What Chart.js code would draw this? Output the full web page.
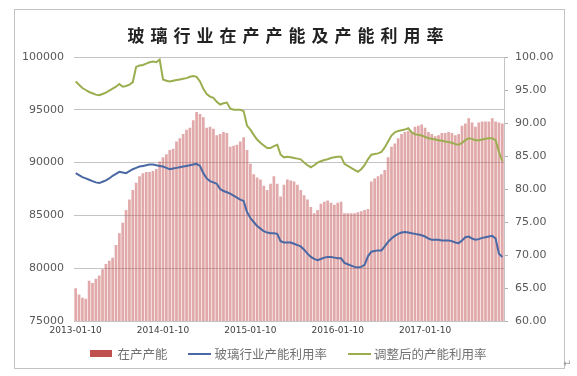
<!DOCTYPE html>
<html>
<head>
<meta charset="utf-8">
<script src="https://cdn.jsdelivr.net/npm/chart.js@4.4.1/dist/chart.umd.min.js"></script>
<style>
  body { margin: 0; background: #fff; }
  #wrap { position: relative; width: 577px; height: 376px; }
  #frame { position: absolute; left: 14px; top: 9px; width: 549px; height: 358px; border: 1px solid #c3c3c3; }
  #title { position: absolute; left: 0; top: 22px; width: 577px; text-align: center;
           font-family: "Noto Sans CJK SC"; font-weight: bold; font-size: 17px; letter-spacing: 6px; color: #222; }
  #legend { position: absolute; left: 0; top: 344px; width: 577px; display: flex; justify-content: center; align-items: center;
            font-family: "Noto Sans CJK SC"; font-size: 12.5px; color: #707070; }
  .sw-rect { width: 22px; height: 7px; background: #c0504d; margin-right: 5px; }
  .sw-line { width: 23px; height: 2px; margin-right: 3px; }
  .gap { width: 21px; }
  #mark { position: absolute; left: 563px; top: 358px; font-size: 10px; color: #999; font-family: "DejaVu Sans"; }
  canvas { position: absolute; left: 0; top: 0; }
</style>
</head>
<body>
<div id="wrap">
  <div id="frame"></div>
  <canvas id="glassChart" width="577" height="376"></canvas>
  <div id="title">玻璃行业在产产能及产能利用率</div>
  <div id="legend"></div>
  <div id="mark">↵</div>
</div>
<script>
// two-week sampling, first point 2013-01-10
const startDate = "2013-01-10";
const tickIndex = [0, 26, 52, 78, 104];
const tickLabels = ["2013-01-10", "2014-01-10", "2015-01-10", "2016-01-10", "2017-01-10"];

const seriesNames = ["在产产能", "玻璃行业产能利用率", "调整后的产能利用率"];

// 在产产能 (left axis)
const capacity = [
  78100, 77500, 77200, 77100, 78800, 78600, 79000, 79300, 79900, 80400,
  80700, 81000, 82200, 83300, 84300, 85500, 86500, 87400, 88100, 88700,
  89000, 89100, 89100, 89200, 89400, 90100, 90500, 90800, 91200, 91300,
  92000, 92300, 92700, 93100, 93300, 94000, 94800, 94600, 94300, 93300,
  93400, 93200, 92600, 92700, 92900, 92800, 91500, 91600, 91700, 92000,
  92400, 91200, 89900, 88900, 88600, 88400, 87800, 87400, 88000, 88700,
  88000, 86800, 87900, 88400, 88300, 88200, 87900, 87400, 86900, 86500,
  85800, 85200, 85500, 86100, 86300, 86400, 86200, 86000, 86200, 86300,
  85200, 85200, 85200, 85200, 85300, 85400, 85500, 85600, 88200, 88500,
  88700, 88900, 89300, 90500, 91500, 91800, 92300, 92700, 92900, 93000,
  92900, 93400, 93500, 93600, 93300, 92900, 92700, 92500, 92600, 92800,
  92800, 92900, 92800, 92600, 92700, 93500, 93700, 94200, 93800, 93400,
  93800, 93900, 93900, 93900, 94200, 93900, 93800, 93700
];

// 玻璃行业产能利用率 (right axis)
const utilization = [
  82.4, 82.1, 81.8, 81.6, 81.4, 81.2, 81.0, 80.9, 81.1, 81.3,
  81.6, 82.0, 82.3, 82.6, 82.5, 82.4, 82.7, 83.0, 83.2, 83.4,
  83.5, 83.6, 83.7, 83.7, 83.6, 83.5, 83.4, 83.2, 83.0, 83.1,
  83.2, 83.3, 83.4, 83.5, 83.6, 83.7, 83.8, 83.5, 82.4, 81.6,
  81.2, 81.0, 80.8, 80.0, 79.7, 79.5, 79.3, 79.0, 78.7, 78.4,
  78.2, 76.5, 75.6, 75.0, 74.4, 74.0, 73.6, 73.4, 73.3, 73.3,
  73.2, 72.1, 71.9, 71.9, 71.9, 71.7, 71.5, 71.3, 70.8, 70.2,
  69.7, 69.4, 69.2, 69.4, 69.6, 69.7, 69.7, 69.6, 69.5, 69.5,
  68.8, 68.6, 68.4, 68.2, 68.1, 68.2, 68.5, 69.8, 70.5, 70.6,
  70.7, 70.7, 71.3, 72.0, 72.5, 72.9, 73.2, 73.4, 73.5, 73.4,
  73.3, 73.2, 73.1, 73.0, 72.8, 72.5, 72.3, 72.3, 72.3, 72.2,
  72.2, 72.2, 72.1, 71.9, 71.8, 72.2, 72.7, 72.8, 72.5, 72.3,
  72.4, 72.6, 72.7, 72.8, 72.9, 72.5, 70.2, 69.7
];

// 调整后的产能利用率 (right axis)
const adjusted = [
  96.3, 95.8, 95.3, 95.0, 94.7, 94.5, 94.3, 94.2, 94.4, 94.6,
  94.9, 95.2, 95.5, 95.9, 95.5, 95.6, 95.8, 96.2, 98.5, 98.7,
  98.8, 99.0, 99.2, 99.3, 99.2, 99.6, 96.6, 96.4, 96.3, 96.4,
  96.5, 96.6, 96.7, 96.8, 97.0, 97.1, 97.0, 96.3, 95.2, 94.4,
  94.0, 93.8, 93.2, 92.8, 93.0, 93.1, 92.2, 92.0, 92.0, 92.0,
  91.8, 89.6, 89.0, 88.2, 87.5, 87.0, 86.6, 86.2, 86.2, 86.5,
  86.7, 85.2, 84.8, 84.9, 84.8, 84.7, 84.6, 84.5, 84.0, 83.6,
  83.3, 83.6, 84.0, 84.2, 84.4, 84.5, 84.7, 84.8, 84.9, 84.9,
  83.8, 83.5, 83.2, 82.9, 82.6, 83.0, 83.6, 84.5, 85.2, 85.3,
  85.4, 85.6, 86.3, 87.2, 88.1, 88.6, 88.8, 88.9, 89.0, 89.2,
  88.6, 88.3, 88.2, 88.1, 87.9, 87.7, 87.6, 87.5, 87.4, 87.3,
  87.2, 87.1, 87.0, 86.8, 86.7, 87.0, 87.4, 87.7, 87.6, 87.4,
  87.4, 87.5, 87.6, 87.7, 87.7, 87.4, 85.6, 84.2
];

const colors = ["#c0504d", "#4a68a3", "#9aae4f"];

// category labels: one date per two weeks
const labels = [];
const d0 = new Date(startDate + "T00:00:00Z");
for (let i = 0; i < capacity.length; i++) {
  const d = new Date(d0.getTime() + i * 14 * 86400000);
  labels.push(d.toISOString().slice(0, 10));
}

// legend
const legend = document.getElementById("legend");
seriesNames.forEach((name, i) => {
  if (i > 0) {
    const g = document.createElement("span");
    g.className = "gap";
    legend.appendChild(g);
  }
  const sw = document.createElement("span");
  sw.className = i === 0 ? "sw-rect" : "sw-line";
  sw.style.background = colors[i];
  legend.appendChild(sw);
  const t = document.createElement("span");
  t.textContent = name;
  legend.appendChild(t);
});

const tickFont = { family: "DejaVu Sans", size: 11 };

new Chart(document.getElementById("glassChart").getContext("2d"), {
  data: {
    labels: labels,
    datasets: [
      {
        type: "bar",
        label: seriesNames[0],
        data: capacity,
        yAxisID: "y",
        backgroundColor: "rgba(196, 84, 84, 0.5)",
        barPercentage: 0.8,
        categoryPercentage: 1,
        order: 2
      },
      {
        type: "line",
        label: seriesNames[1],
        data: utilization,
        yAxisID: "y1",
        borderColor: colors[1],
        borderWidth: 2,
        pointRadius: 0,
        tension: 0,
        order: 1
      },
      {
        type: "line",
        label: seriesNames[2],
        data: adjusted,
        yAxisID: "y1",
        borderColor: colors[2],
        borderWidth: 2,
        pointRadius: 0,
        tension: 0,
        order: 1
      }
    ]
  },
  options: {
    responsive: false,
    animation: false,
    layout: { padding: { left: 14, right: 13, top: 57, bottom: 35 } },
    plugins: { legend: { display: false }, tooltip: { enabled: false } },
    scales: {
      x: {
        grid: { display: false, drawTicks: false },
        border: { display: false },
        ticks: {
          autoSkip: false,
          maxRotation: 0,
          padding: 4,
          color: "#404040",
          font: { family: "DejaVu Sans", size: 9 },
          callback: (v, i) => {
            const k = tickIndex.indexOf(i);
            return k >= 0 ? tickLabels[k] : null;
          }
        },
        afterFit: (s) => { s.height = 20; }
      },
      y: {
        position: "left",
        min: 75000,
        max: 100000,
        ticks: { stepSize: 5000, color: "#595959", font: tickFont, padding: 10, callback: (v) => String(v) },
        grid: { color: "#c4c4c4", drawTicks: false },
        border: { display: false },
        afterFit: (s) => { s.width = 60; }
      },
      y1: {
        position: "right",
        min: 60,
        max: 100,
        ticks: { stepSize: 5, color: "#595959", font: tickFont, padding: 7, callback: (v) => v.toFixed(2) },
        grid: { drawOnChartArea: false, tickLength: 4, color: "#b0b0b0" },
        border: { display: true, color: "#c4c4c4" },
        afterFit: (s) => { s.width = 60; }
      }
    }
  }
});
</script>
</body>
</html>
